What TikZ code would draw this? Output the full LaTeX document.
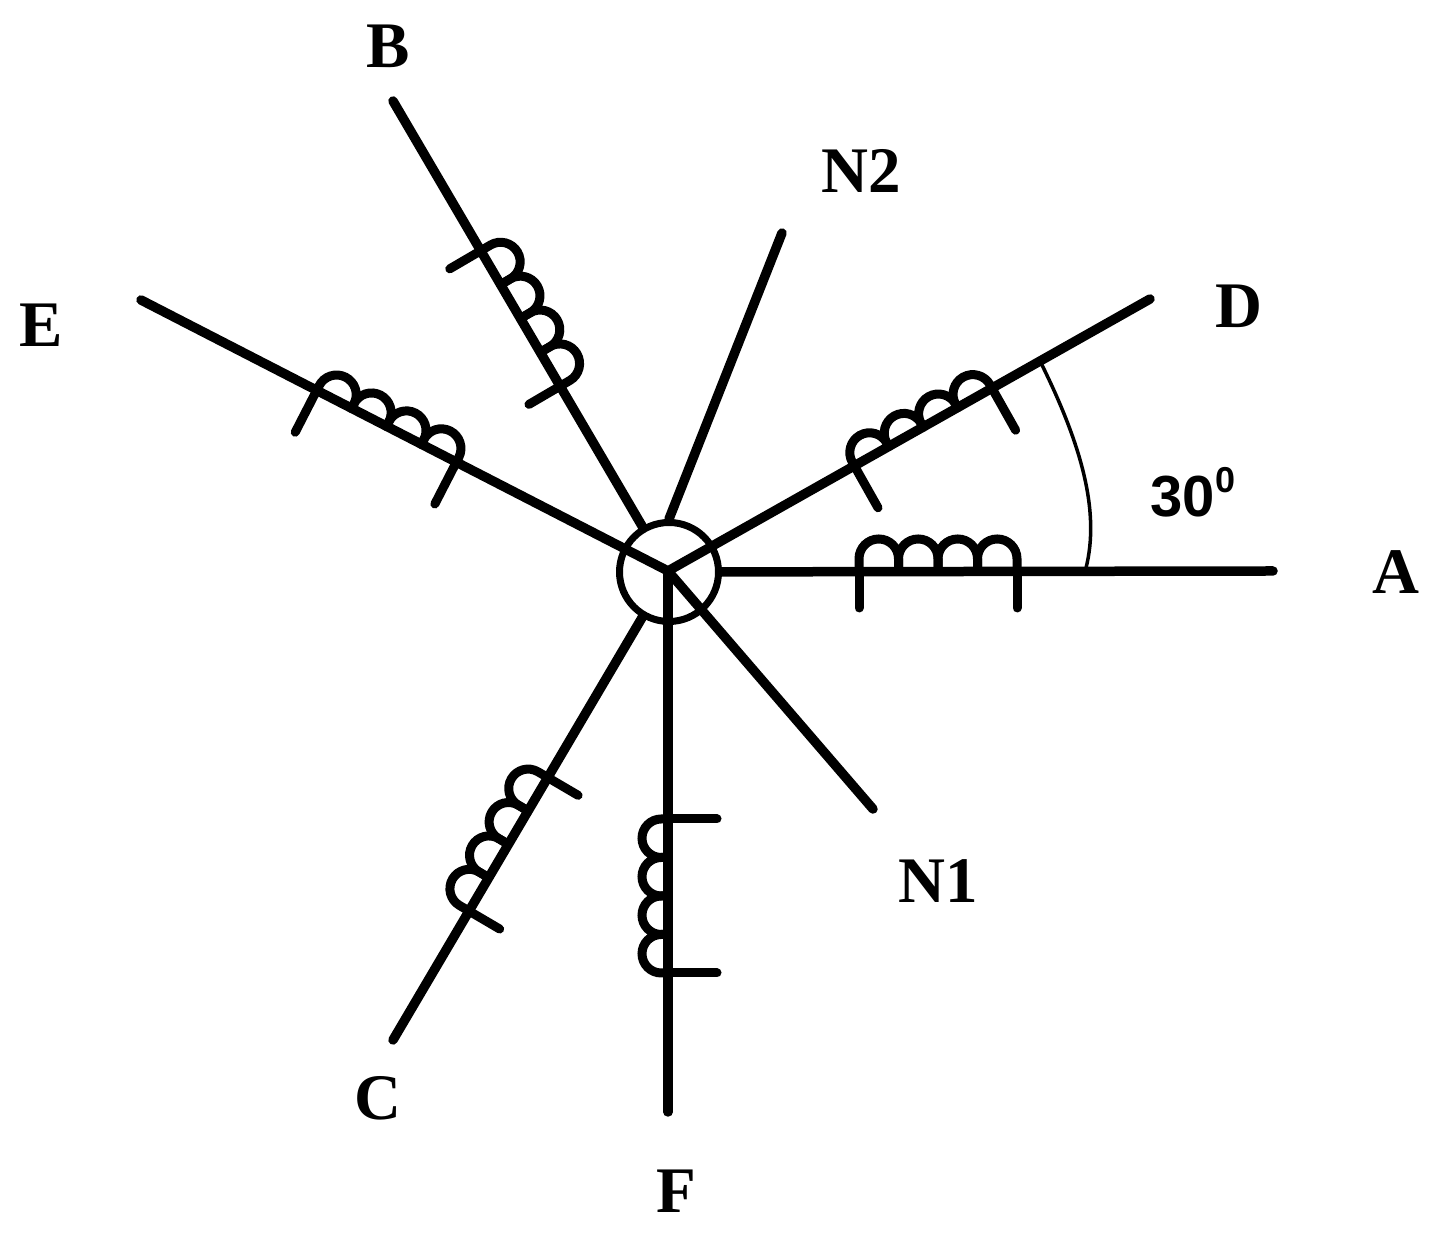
\documentclass[tikz,border=0pt]{standalone}
\usepackage{fontspec}
\setmainfont{Liberation Serif}
\setsansfont{Liberation Sans}
\usepackage{tikz}
\usetikzlibrary{calc,positioning}
\tikzstyle{spoke}=[
  draw=black,
  line width=9.5pt,
  line cap=round,
]
\tikzstyle{coil}=[
  draw=black,
  line width=9pt,
  line cap=round,
]
\tikzstyle{hubring}=[
  circle,
  draw=black,
  line width=7pt,
  inner sep=0pt,
  minimum size=99pt,
]
\tikzstyle{phase}=[
  font={\fontsize{65}{65}\selectfont\bfseries},
  inner sep=0pt,
]
\tikzstyle{anglelabel}=[
  font={\fontsize{58}{58}\selectfont\sffamily\bfseries},
  inner sep=0pt,
]
% angle, side, start, length, tick, rise
\newcommand{\winding}[6]{%
  \begin{scope}[shift={(centre)}, rotate=#1, yscale=#2]
    \draw [coil] (#3,-#5) -- (#3,0);
    \draw [coil] (#3+#4,-#5) -- (#3+#4,0);
    \foreach \i in {0,...,3}
      \draw [coil] (#3+\i*#4/4,0) -- ++(0,#6-#4/8) arc (180:0:#4/8) -- ++(0,-#6+#4/8);
  \end{scope}}

\begin{document}
\begin{tikzpicture}[x=1pt,y=1pt]
  \useasboundingbox (0,0) rectangle (1441,1236);
  \coordinate (centre) at (668,665);
  \node (hub) [hubring] at (669,664) {};
  %%
  \coordinate (endA) at (1273,665);
  \coordinate (endB) at (393,1135);
  \coordinate (endC) at (393,196);
  \coordinate (endD) at (1150,937);
  \coordinate (endE) at (141,936);
  \coordinate (endF) at (668,124);
  \coordinate (endNa) at (873,427);
  \coordinate (endNb) at (782,1003);
  %%
  \node (labelA) [phase] at (1396,664) {A};
  \node (labelB) [phase] at (388,1190) {B};
  \node (labelC) [phase] at (378,138) {C};
  \node (labelD) [phase] at (1239,930) {D};
  \node (labelE) [phase] at (41,911) {E};
  \node (labelF) [phase] at (676,45) {F};
  \node (labelNa) [phase] at (938,355) {N1};
  \node (labelNb) [phase] at (861,1065) {N2};
  \node (angle) [anglelabel] at (1193,744) {30\raisebox{.42em}{\fontsize{36}{36}\selectfont 0}};
  %%
  \draw [spoke] (hub) -- (endA);
  \draw [spoke] (hub) -- (endB);
  \draw [spoke] (hub) -- (endC);
  \draw [spoke] (hub.north) -- (endNb);
  \draw [spoke] (centre) -- (endD);
  \draw [spoke] (centre) -- (endE);
  \draw [spoke] (centre) -- (endF);
  \draw [spoke] (centre) -- (endNa);
  %%
  \winding{0}{1}{191}{158}{37}{32}
  \winding{29.4}{1}{214}{158}{48}{24}
  \winding{120.3}{-1}{214}{157}{36}{31}
  \winding{152.8}{-1}{238}{157}{47}{25}
  \winding{239.6}{-1}{239}{155}{36}{30}
  \winding{270}{-1}{248}{154}{49}{26}
  %%
  \coordinate (arcA) at (1086,668);
  \coordinate (arcD) at (1041,873);
  \draw [line width=3.5pt] (arcA) .. controls (1100,724) and (1082,790) .. (arcD);
\end{tikzpicture}
\end{document}
